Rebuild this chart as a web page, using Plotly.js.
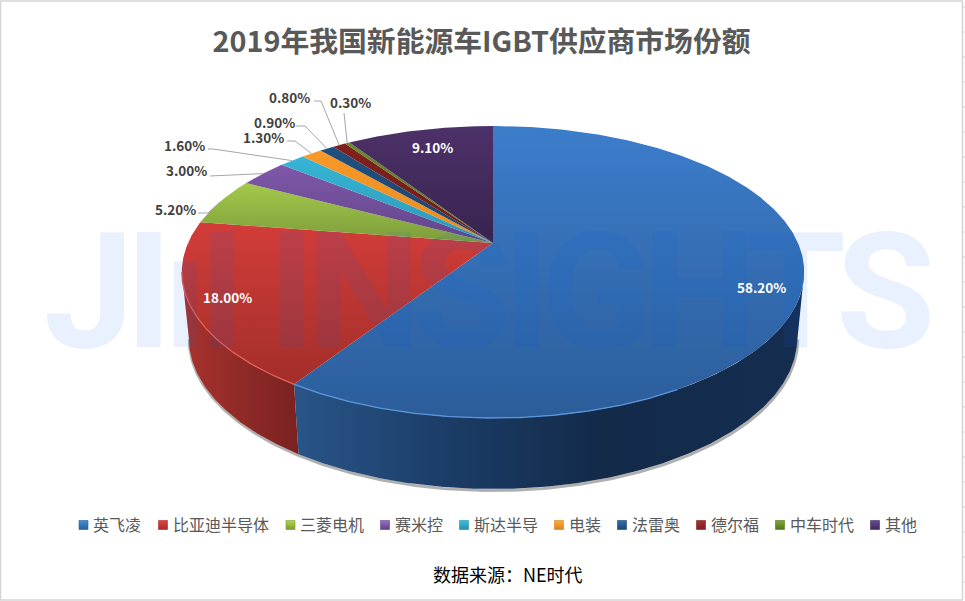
<!DOCTYPE html>
<html>
<head>
<meta charset="utf-8">
<script src="https://cdn.plot.ly/plotly-3.0.1.min.js"></script>
<style>
  html, body { margin: 0; padding: 0; background: #fff; }
  #chart { width: 965px; height: 601px; }
  /* watermark letters sit tighter than the font does */
  .annotation[data-index="0"] text { letter-spacing: -9px; }
</style>
</head>
<body>
<div id="chart"></div>
<script>
// data
const categories = ['英飞凌', '比亚迪半导体', '三菱电机', '赛米控', '斯达半导', '电装', '法雷奥', '德尔福', '中车时代', '其他'];
const shares = [58.2, 18.0, 5.2, 3.0, 1.6, 1.3, 0.9, 0.8, 0.3, 9.1];
const shareLabels = ['58.20%', '18.00%', '5.20%', '3.00%', '1.60%', '1.30%', '0.90%', '0.80%', '0.30%', '9.10%'];

// slice colours: upper end of gradient, lower end of gradient
const topColors = ['#3c7dcb', '#d23d39', '#a3c94b', '#7f58a8', '#37b5d7', '#f9992b', '#20507f', '#80211e', '#6a8a27', '#4d3169'];
const lowColors = ['#2c5d9a', '#a32e2a', '#7d9c3b', '#62458a', '#2b98b6', '#e88a20', '#1b4270', '#701c1a', '#56721f', '#38244f'];
const legendColors = ['#2a6099', '#a82b2a', '#7b9a30', '#5f3f8a', '#2a8fa8', '#d9801f', '#1d4476', '#7a1f20', '#55761f', '#3f2a60'];
const legendTints = ['#3f8fd8', '#e04540', '#b5d54a', '#9570c8', '#35c0e0', '#ffb030', '#3070b0', '#b03030', '#80a830', '#6a4a90'];

// perspective of the pie top, in page pixels
const CX = 493, APEX_Y = 243, R = 305, PERSP = 0.1986, BACK = -92;
const TOP_ELLIPSE = { cy: 272, rx: 311, ry: 146 };
const LOW_ELLIPSE = { cy: 338, rx: 304, ry: 151 };

function rim(deg) {
    const t = deg * Math.PI / 180;
    const d = 1 + PERSP * Math.cos(t);
    return [CX + R * Math.sin(t) / d, (APEX_Y + BACK * Math.cos(t)) / d];
}
function lowerRim(deg) {
    const p = rim(deg);
    return [
        CX + (p[0] - CX) * LOW_ELLIPSE.rx / TOP_ELLIPSE.rx,
        LOW_ELLIPSE.cy + (p[1] - TOP_ELLIPSE.cy) * LOW_ELLIPSE.ry / TOP_ELLIPSE.ry
    ];
}
function arc(a, b, fn) {
    const pts = [];
    const n = Math.max(2, Math.ceil((b - a) * 2));
    for (let i = 0; i <= n; i++) pts.push(fn(a + (b - a) * i / n));
    return pts;
}

const total = shares.reduce((s, v) => s + v, 0);
const edges = [0];
shares.forEach(v => edges.push(edges[edges.length - 1] + v / total * 360));

// the wall is visible between the two horizontal extremes of the rim
const EXT = Math.acos(-PERSP) * 180 / Math.PI;
const wallLo = EXT, wallHi = 360 - EXT;

const traces = [];

// soft shadow below the wall
const shadow = arc(wallLo, wallHi, lowerRim);
traces.push({
    x: shadow.map(p => p[0] + 0.5), y: shadow.map(p => p[1] + 1.5),
    mode: 'lines', line: { color: 'rgba(80,80,80,0.45)', width: 3 }, hoverinfo: 'skip', showlegend: false
});

// walls
const wallScales = {
    0: { start: 300, stop: 805, cs: [[0, '#285487'], [0.3, '#1b3c66'], [0.6, '#132a49'], [1, '#152e50']] },
    1: { start: 185, stop: 300, cs: [[0, '#a8322e'], [0.5, '#8f2a27'], [1, '#792120']] }
};
shares.forEach((v, i) => {
    const a = Math.max(edges[i], wallLo), b = Math.min(edges[i + 1], wallHi);
    if (b <= a) return;
    const upper = arc(a, b, rim), lower = arc(a, b, lowerRim).reverse();
    const poly = upper.concat(lower);
    const w = wallScales[i];
    traces.push({
        x: poly.map(p => p[0]).concat(poly[0][0]), y: poly.map(p => p[1]).concat(poly[0][1]),
        mode: 'lines', line: { width: 0 }, fill: 'toself',
        fillgradient: { type: 'horizontal', start: w.start, stop: w.stop, colorscale: w.cs },
        hoverinfo: 'skip', showlegend: false
    });
});

// top faces (y axis is flipped, so the scale runs from the lower colour up)
shares.forEach((v, i) => {
    const pts = [[CX, APEX_Y]].concat(arc(edges[i], edges[i + 1], rim));
    pts.push([CX, APEX_Y]);
    traces.push({
        x: pts.map(p => p[0]), y: pts.map(p => p[1]),
        name: categories[i], mode: 'lines', line: { width: 0 }, fill: 'toself',
        fillgradient: { type: 'vertical', colorscale: [[0, lowColors[i]], [1, topColors[i]]] },
        hoverinfo: 'name', showlegend: false
    });
});

// light edge along the front of the rim
[['#5a97dc', 0, 150], ['#e2605a', 1, 0]].forEach(r => {
    const i = r[1];
    const pts = arc(Math.max(edges[i], wallLo, r[2]), Math.min(edges[i + 1], wallHi), rim);
    traces.push({
        x: pts.map(p => p[0]), y: pts.map(p => p[1]),
        mode: 'lines', line: { color: r[0], width: 1.3 }, hoverinfo: 'skip', showlegend: false
    });
});

// leader lines for the small slices; page pixels of label end + elbow
const leaderStarts = {
    2: [[198, 213], [208, 213]],
    3: [[210, 176]],
    4: [[208, 149], [213, 149]],
    5: [[287, 141], [295, 141]],
    6: [[296, 126], [305, 126]],
    7: [[314, 101], [321, 101]],
    8: [[344, 113]]
};
Object.keys(leaderStarts).forEach(k => {
    const i = +k;
    const pts = leaderStarts[k].concat([rim((edges[i] + edges[i + 1]) / 2)]);
    traces.push({
        x: pts.map(p => p[0]), y: pts.map(p => p[1]),
        mode: 'lines', line: { color: '#a6a6a6', width: 1 }, hoverinfo: 'skip', showlegend: false
    });
});

// legend row
const legendX = [83.5, 163, 290.5, 385, 464, 559, 622, 701, 780, 875];
const LEGEND_Y = 525;
traces.push({
    x: legendX, y: legendX.map(() => LEGEND_Y),
    mode: 'markers', hoverinfo: 'skip', showlegend: false,
    marker: {
        symbol: 'square', size: 9, color: legendTints,
        gradient: { type: 'vertical', color: legendColors },
        line: { color: legendColors, width: 0.6 }
    }
});

// label centres in page pixels
const labelX = [761, 227, 175.5, 186, 184, 263, 274, 289, 350, 432];
const labelY = [287, 297, 209, 170, 145, 137, 122, 97, 102, 147];
const whiteLabels = [0, 1, 9];

const annotations = [{
    text: 'JIıI INSIGHTS', x: 485, y: 292, xref: 'x', yref: 'y', showarrow: false,
    font: { family: 'Roboto', size: 162, weight: 700, color: 'rgba(0,100,233,0.09)' }
}];
shareLabels.forEach((t, i) => annotations.push({
    text: t, x: labelX[i], y: labelY[i], xref: 'x', yref: 'y', showarrow: false,
    font: { family: 'Noto Sans CJK SC', size: 13.5, weight: 700, color: whiteLabels.includes(i) ? '#ffffff' : '#404040' }
}));
categories.forEach((c, i) => annotations.push({
    text: c, x: legendX[i] + 7.5, y: LEGEND_Y - 1.5, xref: 'x', yref: 'y', xanchor: 'left', showarrow: false,
    font: { family: 'Noto Sans CJK SC', size: 16, color: '#595959' }
}));
annotations.push({
    text: '数据来源：NE时代', x: 507.5, y: 574, xref: 'x', yref: 'y', showarrow: false,
    font: { family: 'Noto Sans CJK SC', size: 18, color: '#000000' }
});

// worksheet frame behind the chart picture
const FRAME = '#d4d4d4';
const shapes = [
    { type: 'line', x0: 0, x1: 963, y0: 1, y1: 1, line: { color: FRAME, width: 1.5 } },
    { type: 'line', x0: 0.5, x1: 0.5, y0: 1, y1: 600, line: { color: FRAME, width: 1.5 } },
    { type: 'line', x0: 962.5, x1: 962.5, y0: 1, y1: 600, line: { color: FRAME, width: 1.5 } },
    { type: 'line', x0: 0, x1: 963, y0: 600, y1: 600, line: { color: FRAME, width: 1.5 } }
];
for (let y = 7; y < 601; y += 25) {
    shapes.push({ type: 'line', x0: 963, x1: 965, y0: y, y1: y, line: { color: FRAME, width: 1 } });
}

const layout = {
    width: 965, height: 601,
    margin: { t: 0, r: 0, b: 0, l: 0 },
    paper_bgcolor: '#ffffff', plot_bgcolor: '#ffffff',
    showlegend: false,
    title: {
        text: '2019年我国新能源车IGBT供应商市场份额',
        x: 481.5 / 965, xanchor: 'center', y: 1 - 42 / 601, yanchor: 'middle',
        font: { family: 'Noto Sans CJK SC', size: 28.8, weight: 700, color: '#595959' }
    },
    xaxis: { range: [0, 965], visible: false, fixedrange: true },
    yaxis: { range: [601, 0], visible: false, fixedrange: true },
    annotations: annotations,
    shapes: shapes
};

Plotly.newPlot('chart', traces, layout, { displayModeBar: false, staticPlot: true });
</script>
</body>
</html>
